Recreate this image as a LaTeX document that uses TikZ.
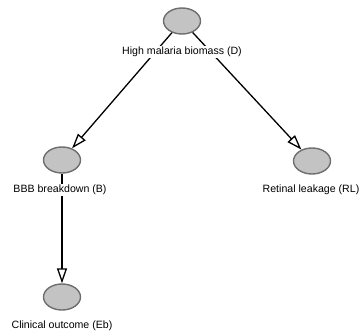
\documentclass[tikz,border=0pt]{standalone}
\usepackage{fontspec}
\setmainfont{Liberation Sans}
\usetikzlibrary{arrows.meta,shapes.geometric}
\definecolor{nodefill}{HTML}{C3C3C3}
\definecolor{nodeedge}{HTML}{6E6E6E}
\begin{document}
\begin{tikzpicture}[x=1pt,y=-1pt,
  var/.style={ellipse, draw=nodeedge, fill=nodefill, line width=1.4pt, minimum width=37pt, minimum height=26pt, inner sep=0pt},
  lbl/.style={fill=white, inner sep=1pt, font=\fontsize{10.6}{12}\selectfont},
  arr/.style={line width=1.3pt, -{Triangle[open, length=15pt, width=10pt]}}]
\useasboundingbox (0,0) rectangle (364,335);
\node[var] (D) at (182,21) {};
\node[var] (B) at (62,160) {};
\node[var] (RL) at (312,161) {};
\node[var] (Eb) at (62,297) {};
\draw[arr] (D) -- (B);
\draw[arr] (D) -- (RL);
\draw[arr] (B) -- (Eb);
\node[lbl] (Dl) at (182,52) {High malaria biomass (D)};
\node[lbl] (Bl) at (60,190) {BBB breakdown (B)};
\node[lbl] (RLl) at (311,190) {Retinal leakage (RL)};
\node[lbl] (Ebl) at (62,326) {Clinical outcome (Eb)};
\end{tikzpicture}
\end{document}
